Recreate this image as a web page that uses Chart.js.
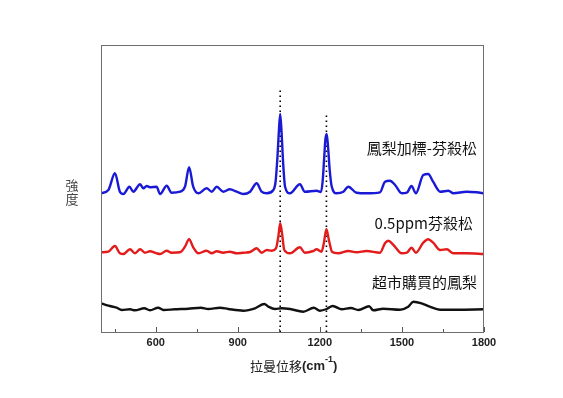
<!DOCTYPE html>
<html lang="zh-Hant">
  <head>
    <meta charset="UTF-8" />
    <title>拉曼光譜</title>
    <script src="https://cdn.jsdelivr.net/npm/chart.js"></script>
    <style>
      body {
        margin: 0;
        background: #fff;
      }
      #wrap {
        width: 563px;
        height: 398px;
      }
    </style>
  </head>
  <body>
    <div id="wrap"><canvas id="raman" width="563" height="398"></canvas></div>

    <script>
      // 鳳梨加標-芬殺松 (藍)
      const spikedShift = [400, 427, 451, 469, 482, 504, 518, 543, 555, 567, 579, 603, 616, 640, 658, 689, 707, 722, 737, 756, 786, 805, 823, 847, 871, 896, 920, 945, 969, 987, 1006, 1030, 1038, 1045, 1050, 1055, 1060, 1066, 1073, 1091, 1127, 1145, 1188, 1204, 1210, 1216, 1220, 1225, 1230, 1236, 1243, 1261, 1286, 1304, 1334, 1371, 1420, 1438, 1456, 1475, 1499, 1518, 1535, 1551, 1578, 1596, 1614, 1640, 1670, 1688, 1736, 1773, 1800];
      const spikedIntensity = [138.7, 142, 158.7, 140.3, 138, 145.3, 140.3, 147.7, 143.7, 146, 144.7, 145.3, 138, 146.3, 139.3, 140.3, 145.3, 164.7, 145.3, 138.7, 143.7, 140.3, 145.3, 140.3, 142.7, 140.3, 138, 140.3, 148.7, 140.3, 138.7, 142, 150, 175, 200, 218, 200, 168, 145, 138.7, 147.7, 140.3, 141.3, 140, 150, 175, 192, 198, 185, 162, 146, 138.7, 140.3, 145.3, 139.3, 138.7, 139.7, 150.3, 151.3, 147, 138.7, 139.3, 146, 138.7, 157, 158, 150.3, 140.3, 141.3, 138.7, 140.3, 139.7, 138.7];

      // 0.5ppm芬殺松 (紅)
      const standardShift = [400, 427, 451, 469, 482, 506, 524, 543, 561, 579, 603, 616, 640, 658, 689, 707, 722, 737, 756, 786, 805, 823, 847, 871, 896, 920, 945, 969, 987, 1006, 1024, 1040, 1048, 1055, 1062, 1070, 1091, 1127, 1145, 1176, 1188, 1206, 1214, 1224, 1233, 1245, 1267, 1304, 1334, 1371, 1420, 1438, 1450, 1469, 1499, 1518, 1535, 1551, 1578, 1596, 1614, 1640, 1664, 1688, 1736, 1800];
      const standardIntensity = [79.7, 80.3, 86, 78.7, 78, 82.7, 78.7, 82.7, 79.3, 80.7, 78.7, 78, 81.3, 79.3, 79.7, 85.3, 92.7, 84.7, 78.7, 81.3, 78.7, 80.7, 79.3, 80.3, 78.7, 79.3, 80, 83.7, 79.3, 82, 81.3, 84, 95, 108.7, 98, 82, 78.7, 84.7, 79.3, 81, 82.7, 80.3, 88, 102.7, 92, 80, 78.7, 81, 79.7, 81, 79.3, 88.7, 91.3, 87, 78.7, 79.3, 84.3, 79.3, 89.3, 92.7, 89.3, 82, 82.7, 78.7, 78.7, 78];

      // 超市購買的鳳梨 (黑)
      const marketShift = [400, 427, 457, 476, 506, 524, 558, 579, 609, 628, 670, 719, 765, 792, 835, 865, 920, 963, 997, 1012, 1036, 1060, 1091, 1139, 1178, 1200, 1225, 1247, 1280, 1313, 1341, 1380, 1395, 1432, 1493, 1523, 1542, 1572, 1602, 1639, 1700, 1800];
      const marketIntensity = [28.7, 26.3, 24.3, 22, 22.7, 21.7, 23.7, 21.7, 24.3, 22, 22.7, 23.3, 24.3, 23, 24.3, 23, 21.3, 23.7, 28, 25.3, 23, 23.7, 23, 20.3, 24.3, 21.3, 23, 26, 22.7, 24, 22, 25.7, 21.7, 23.3, 22.3, 25.3, 30.3, 28.7, 25.3, 22.3, 22.3, 22.7];

      // 虛線標示峰位
      const peakShift = [1055, 1224];
      const peakLineTop = [243.7, 218.7];

      const xTickLabels = [600, 900, 1200, 1500, 1800];

      const toPoints = (xs, ys) => xs.map((x, i) => ({ x: x, y: ys[i] }));

      const peakSets = peakShift.map((p, i) => ({
        data: [
          { x: p, y: 0 },
          { x: p, y: peakLineTop[i] },
        ],
        borderColor: "#000",
        borderWidth: 1.6,
        borderDash: [1.5, 3.5],
        pointRadius: 0,
        tension: 0,
      }));

      const frame = {
        id: "frame",
        afterDatasetsDraw(chart) {
          const ctx = chart.ctx;
          const a = chart.chartArea;
          const xs = chart.scales.x;
          const ys = chart.scales.y;
          ctx.save();
          ctx.strokeStyle = "#6e6e6e";
          ctx.lineWidth = 1;
          ctx.strokeRect(a.left + 0.5, a.top + 0.5, a.right - a.left - 1, a.bottom - a.top);

          // inward ticks, major every 300, minor every 150
          ctx.strokeStyle = "#555";
          for (let v = 450; v <= 1800; v += 150) {
            const px = Math.round(xs.getPixelForValue(v)) + 0.5;
            const len = v % 300 === 0 ? 5 : 3;
            ctx.beginPath();
            ctx.moveTo(px, a.bottom);
            ctx.lineTo(px, a.bottom - len);
            ctx.stroke();
          }

          // series names
          ctx.fillStyle = "#111";
          ctx.font = '15px "Noto Sans CJK TC"';
          ctx.textAlign = "right";
          ctx.textBaseline = "middle";
          const rx = xs.getPixelForValue(1774);
          ctx.fillText("鳳梨加標-芬殺松", rx, ys.getPixelForValue(184));
          ctx.fillText("0.5ppm芬殺松", rx - 4, ys.getPixelForValue(109));
          ctx.fillText("超市購買的鳳梨", rx, ys.getPixelForValue(50));

          // y title, stacked
          ctx.fillStyle = "#444";
          ctx.font = '13px "Noto Sans CJK TC"';
          ctx.textAlign = "center";
          ctx.fillText("強", 72, 185);
          ctx.fillText("度", 72, 199);

          // x title
          ctx.textAlign = "left";
          ctx.fillStyle = "#222";
          ctx.font = '13px "Noto Sans CJK TC"';
          const t1 = "拉曼位移";
          let tx = 250;
          ctx.fillText(t1, tx, 366);
          tx += ctx.measureText(t1).width;
          ctx.font = 'bold 13px "Liberation Sans"';
          ctx.fillText("(cm", tx, 366);
          tx += ctx.measureText("(cm").width;
          ctx.font = 'bold 9px "Liberation Sans"';
          ctx.fillText("-1", tx, 360);
          tx += ctx.measureText("-1").width;
          ctx.font = 'bold 13px "Liberation Sans"';
          ctx.fillText(")", tx, 366);
          ctx.restore();
        },
      };

      new Chart(document.getElementById("raman"), {
        type: "line",
        data: {
          datasets: [
            {
              data: toPoints(spikedShift, spikedIntensity),
              borderColor: "#1a1ad6",
              borderWidth: 2.4,
              pointRadius: 0,
              cubicInterpolationMode: "monotone",
            },
            {
              data: toPoints(standardShift, standardIntensity),
              borderColor: "#e31b1b",
              borderWidth: 2.4,
              pointRadius: 0,
              cubicInterpolationMode: "monotone",
            },
            {
              data: toPoints(marketShift, marketIntensity),
              borderColor: "#111",
              borderWidth: 2.4,
              pointRadius: 0,
              cubicInterpolationMode: "monotone",
            },
            ...peakSets,
          ],
        },
        options: {
          responsive: false,
          animation: false,
          layout: { padding: { left: 101, right: 79, top: 45, bottom: 0 } },
          plugins: {
            legend: { display: false },
            tooltip: { enabled: false },
          },
          scales: {
            x: {
              type: "linear",
              min: 400,
              max: 1800,
              afterBuildTicks: (s) => {
                s.ticks = xTickLabels.map((v) => ({ value: v }));
              },
              afterFit: (s) => {
                s.height = 66;
              },
              grid: { display: false, drawTicks: false },
              border: { display: false },
              ticks: {
                padding: 4,
                color: "#222",
                font: { family: "Liberation Sans", size: 11, weight: "bold" },
                maxRotation: 0,
                callback: (v) => String(v),
              },
            },
            y: {
              display: false,
              min: 0,
              max: 287,
            },
          },
        },
        plugins: [frame],
      });
    </script>
  </body>
</html>
